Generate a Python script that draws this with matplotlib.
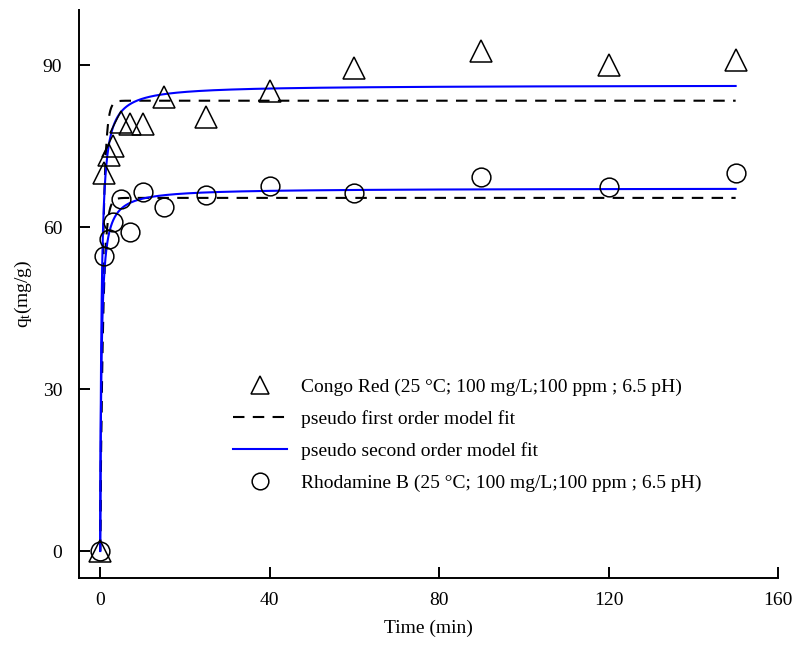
import numpy as np
import matplotlib
matplotlib.use("Agg")
import matplotlib.pyplot as plt
import matplotlib.lines as mlines

plt.rcParams['font.family'] = ['Liberation Serif', 'DejaVu Serif']
plt.rcParams['mathtext.fontset'] = 'custom'
plt.rcParams['mathtext.rm'] = 'Liberation Serif'
plt.rcParams['mathtext.it'] = 'Liberation Serif:italic'

# --- data ---
time_min = [0, 1, 2, 3, 5, 7, 10, 15, 25, 40, 60, 90, 120, 150]
congo_red = [0, 70.0, 73.3, 75.0, 79.5, 79.0, 79.0, 84.0, 80.4, 85.2, 89.4, 92.6, 90.0, 90.9]
rhodamine_b = [0, 54.6, 57.8, 61.0, 65.2, 59.0, 66.5, 63.8, 65.9, 67.6, 66.3, 69.3, 67.5, 70.0]

# fitted model parameters (qe in mg/g, k1 in 1/min, k2 in g/(mg min))
cr_pfo_qe, cr_pfo_k1 = 83.4, 1.6
cr_pso_qe, cr_pso_k2 = 86.3, 0.0385
rb_pfo_qe, rb_pfo_k1 = 65.4, 1.5
rb_pso_qe, rb_pso_k2 = 67.2, 0.050

legend_labels = [
    'Congo Red (25 °C; 100 mg/L;100 ppm ; 6.5 pH)',
    'pseudo first order model fit',
    'pseudo second order model fit',
    'Rhodamine B (25 °C; 100 mg/L;100 ppm ; 6.5 pH)',
]


def pfo(t, qe, k1):
    return qe * (1 - np.exp(-k1 * t))


def pso(t, qe, k2):
    return qe ** 2 * k2 * t / (1 + qe * k2 * t)


t_fit = np.linspace(0, max(time_min), 3000)

fig = plt.figure(figsize=(7.92, 6.46), dpi=100)
ax = fig.add_axes([79 / 792, 1 - 578 / 646, (778 - 79) / 792, (578 - 10) / 646])

dash = (5.5, 4)
blue = '#0000FF'

ax.plot(t_fit, pfo(t_fit, cr_pfo_qe, cr_pfo_k1), color='black', lw=1.5, dashes=dash, zorder=2)
ax.plot(t_fit, pso(t_fit, cr_pso_qe, cr_pso_k2), color=blue, lw=1.5, zorder=2)
ax.plot(t_fit, pfo(t_fit, rb_pfo_qe, rb_pfo_k1), color='black', lw=1.5, dashes=dash, zorder=2)
ax.plot(t_fit, pso(t_fit, rb_pso_qe, rb_pso_k2), color=blue, lw=1.5, zorder=2)

ax.plot(time_min, congo_red, linestyle='none', marker='^', markersize=16,
        markerfacecolor='none', markeredgecolor='black', markeredgewidth=1.1, zorder=3)
ax.plot(time_min, rhodamine_b, linestyle='none', marker='o', markersize=13.5,
        markerfacecolor='none', markeredgecolor='black', markeredgewidth=1.1, zorder=3)

ax.set_xlim(-5, 160)
ax.set_ylim(-5, 100.2)
ax.set_xticks([0, 40, 80, 120, 160])
ax.set_yticks([0, 30, 60, 90])

for side in ['top', 'right']:
    ax.spines[side].set_visible(False)
for side in ['left', 'bottom']:
    ax.spines[side].set_linewidth(1.4)

ax.tick_params(direction='in', length=8, width=1.4, labelsize=14, pad=10)
ax.tick_params(axis='y', pad=12)

ax.set_xlabel('Time (min)', fontsize=14, labelpad=8)
ax.set_ylabel(r'q$_\mathrm{t}$(mg/g)', fontsize=14, labelpad=6)

# --- legend ---
h_cr = mlines.Line2D([], [], linestyle='none', marker='^', markersize=13,
                     markerfacecolor='none', markeredgecolor='black', markeredgewidth=1.1)
h_pfo = mlines.Line2D([], [], color='black', lw=1.5, dashes=dash)
h_pso = mlines.Line2D([], [], color=blue, lw=1.5)
h_rb = mlines.Line2D([], [], linestyle='none', marker='o', markersize=12,
                     markerfacecolor='none', markeredgecolor='black', markeredgewidth=1.1)
ax.legend(handles=[h_cr, h_pfo, h_pso, h_rb], labels=legend_labels,
          loc='upper left', bbox_to_anchor=(0.195, 0.382), frameon=False,
          fontsize=14, handlelength=2.8, handletextpad=0.7, labelspacing=0.72)

plt.savefig('out.png', dpi=100)
